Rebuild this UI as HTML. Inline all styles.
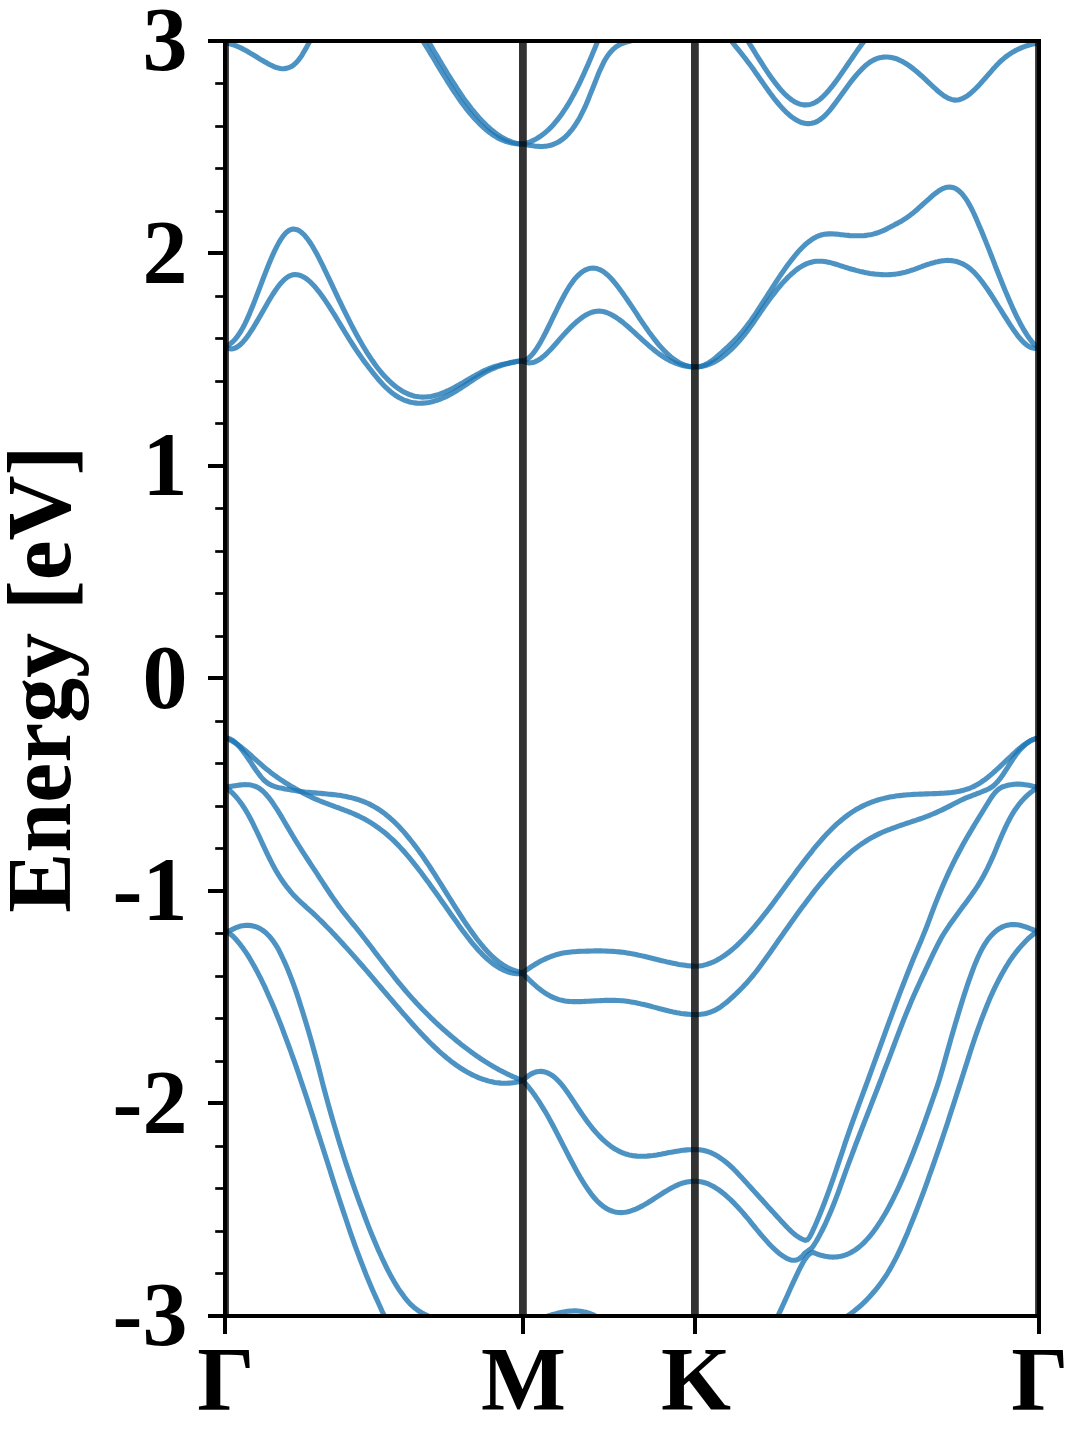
<!DOCTYPE html>
<html><head><meta charset="utf-8"><title>Band structure</title>
<style>
html,body{margin:0;padding:0;background:#fff;}
body{width:1080px;height:1440px;overflow:hidden;}
svg{display:block;}
text{font-family:"Liberation Serif",serif;font-weight:bold;font-size:90px;fill:#000;stroke:none;}
</style></head>
<body>
<svg width="1080" height="1440" viewBox="0 0 1080 1440" role="img" aria-label="Band structure: Energy [eV] versus k-path Γ-M-K-Γ">
<rect width="1080" height="1440" fill="#fff"/>
<defs><clipPath id="ax"><rect x="225.0" y="41.0" width="814.0" height="1275.0"/></clipPath></defs>
<g clip-path="url(#ax)">
<g fill="none" stroke="#1f77b4" stroke-opacity="0.8" stroke-width="5.1" stroke-linejoin="round" stroke-linecap="butt">
<path d="M225.0,43.0L227.0,43.2L229.0,43.6L230.9,44.1L232.9,44.7L234.9,45.4L236.9,46.1L238.8,47.0L240.8,47.9L242.8,48.9L244.8,50.0L246.8,51.1L248.7,52.2L250.7,53.4L252.7,54.5L254.7,55.7L256.7,57.0L258.6,58.2L260.6,59.4L262.6,60.5L264.6,61.7L266.5,62.8L268.5,63.9L270.5,65.0L272.5,65.9L274.5,66.8L276.4,67.5L278.4,68.1L280.4,68.5L282.4,68.7L284.3,68.6L286.3,68.4L288.3,67.8L290.3,67.0L292.3,65.9L294.2,64.4L296.2,62.6L298.2,60.4L300.2,57.8L302.2,54.8L304.1,51.5L306.1,48.1L308.1,44.4L310.1,40.7L312.0,37.0L314.0,33.4L316.0,30.0"/>
<path d="M414.7,28.0L416.7,31.0L418.6,34.1L420.6,37.2L422.6,40.4L424.5,43.6L426.5,46.8L428.5,50.0L430.4,53.3L432.4,56.5L434.4,59.8L436.3,63.1L438.3,66.3L440.3,69.6L442.2,72.8L444.2,76.0L446.2,79.2L448.1,82.3L450.1,85.4L452.1,88.5L454.0,91.5L456.0,94.4L458.0,97.3L459.9,100.1L461.9,102.9L463.9,105.5L465.8,108.1L467.8,110.6L469.8,113.0L471.8,115.3L473.7,117.6L475.7,119.8L477.7,121.8L479.6,123.8L481.6,125.7L483.6,127.5L485.5,129.2L487.5,130.9L489.5,132.4L491.4,133.8L493.4,135.2L495.4,136.4L497.3,137.6L499.3,138.6L501.3,139.6L503.2,140.4L505.2,141.2L507.2,141.8L509.1,142.4L511.1,142.9L513.1,143.3L515.0,143.6L517.0,143.8L519.0,143.9L520.9,144.0L522.9,144.0"/>
<path d="M420.2,28.0L422.2,31.2L424.1,34.5L426.1,37.8L428.1,41.0L430.1,44.4L432.1,47.7L434.0,51.0L436.0,54.3L438.0,57.6L439.9,60.9L441.9,64.2L443.9,67.5L445.9,70.8L447.8,74.0L449.8,77.2L451.8,80.3L453.8,83.4L455.8,86.5L457.7,89.5L459.7,92.5L461.7,95.4L463.6,98.2L465.6,101.0L467.6,103.6L469.6,106.3L471.5,108.8L473.5,111.2L475.5,113.6L477.5,115.9L479.4,118.1L481.4,120.3L483.4,122.3L485.4,124.3L487.3,126.2L489.3,128.0L491.3,129.7L493.3,131.3L495.2,132.8L497.2,134.3L499.2,135.6L501.2,136.9L503.1,138.0L505.1,139.1L507.1,140.1L509.1,140.9L511.0,141.7L513.0,142.4L515.0,142.9L517.0,143.4L519.0,143.7L520.9,143.9L522.9,144.0"/>
<path d="M522.9,144.0L524.9,143.5L526.8,143.0L528.8,142.3L530.7,141.6L532.7,140.7L534.6,139.7L536.6,138.7L538.5,137.5L540.5,136.2L542.4,134.7L544.4,133.2L546.3,131.6L548.3,129.8L550.3,127.9L552.2,125.9L554.2,123.7L556.1,121.4L558.1,119.0L560.0,116.4L562.0,113.7L563.9,110.9L565.9,107.9L567.8,104.8L569.8,101.6L571.7,98.1L573.7,94.6L575.6,90.8L577.6,87.0L579.6,83.0L581.5,78.9L583.5,74.7L585.4,70.3L587.4,65.9L589.3,61.4L591.3,56.8L593.2,52.1L595.2,47.4L597.1,42.6L599.1,37.8L601.0,32.9L603.0,28.0"/>
<path d="M522.9,144.0L524.9,144.4L526.8,144.8L528.8,145.2L530.8,145.5L532.8,145.8L534.7,146.1L536.7,146.3L538.7,146.4L540.6,146.5L542.6,146.5L544.6,146.3L546.6,146.1L548.5,145.8L550.5,145.3L552.5,144.7L554.4,143.9L556.4,143.0L558.4,142.0L560.4,140.8L562.3,139.4L564.3,137.8L566.3,136.0L568.2,134.0L570.2,131.7L572.2,129.3L574.2,126.6L576.1,123.6L578.1,120.4L580.1,116.9L582.0,113.2L584.0,109.1L586.0,104.8L588.0,100.1L589.9,95.2L591.9,90.2L593.9,85.2L595.9,80.2L597.8,75.3L599.8,70.6L601.8,66.3L603.7,62.3L605.7,58.8L607.7,55.7L609.7,53.0L611.6,50.8L613.6,48.9L615.6,47.2L617.5,45.9L619.5,44.8L621.5,43.8L623.5,43.1L625.4,42.4L627.4,41.8L629.4,41.3L631.3,40.8L633.3,40.3L635.3,39.9L637.3,39.5L639.2,39.1L641.2,38.7L643.2,38.2L645.1,37.8L647.1,37.3L649.1,36.8L651.1,36.3L653.0,35.7L655.0,35.0"/>
<path d="M722.0,29.5L724.0,32.0L726.0,34.6L728.0,37.0L730.0,39.5L732.0,41.9L734.0,44.3L736.0,46.8L737.9,49.2L739.9,51.7L741.9,54.1L743.9,56.7L745.9,59.2L747.9,61.9L749.9,64.6L751.9,67.3L753.9,70.1L755.9,72.9L757.9,75.8L759.9,78.7L761.9,81.5L763.9,84.4L765.9,87.2L767.9,90.0L769.8,92.8L771.8,95.4L773.8,98.1L775.8,100.6L777.8,103.0L779.8,105.4L781.8,107.6L783.8,109.8L785.8,111.8L787.8,113.6L789.8,115.4L791.8,117.0L793.8,118.4L795.8,119.7L797.8,120.8L799.8,121.8L801.7,122.5L803.7,123.1L805.7,123.5L807.7,123.6L809.7,123.6L811.7,123.3L813.7,122.8L815.7,122.1L817.7,121.1L819.7,119.9L821.7,118.4L823.7,116.7L825.7,114.8L827.7,112.7L829.7,110.4L831.7,107.9L833.6,105.4L835.6,102.7L837.6,100.0L839.6,97.3L841.6,94.5L843.6,91.7L845.6,88.9L847.6,86.2L849.6,83.5L851.6,80.9L853.6,78.4L855.6,76.0L857.6,73.7L859.6,71.5L861.6,69.4L863.6,67.4L865.5,65.6L867.5,64.0L869.5,62.5L871.5,61.2L873.5,60.1L875.5,59.2L877.5,58.4L879.5,57.8L881.5,57.4L883.5,57.1L885.5,57.0L887.5,57.0L889.5,57.2L891.5,57.5L893.5,58.0L895.5,58.5L897.4,59.2L899.4,60.1L901.4,61.0L903.4,62.1L905.4,63.3L907.4,64.5L909.4,65.9L911.4,67.4L913.4,68.9L915.4,70.5L917.4,72.2L919.4,74.0L921.4,75.7L923.4,77.5L925.4,79.4L927.4,81.3L929.3,83.1L931.3,85.0L933.3,86.9L935.3,88.7L937.3,90.5L939.3,92.2L941.3,93.8L943.3,95.3L945.3,96.6L947.3,97.7L949.3,98.7L951.3,99.4L953.3,99.9L955.3,100.1L957.3,100.0L959.3,99.7L961.2,99.0L963.2,98.2L965.2,97.1L967.2,95.8L969.2,94.4L971.2,92.7L973.2,90.9L975.2,89.0L977.2,87.0L979.2,84.9L981.2,82.7L983.2,80.4L985.2,78.2L987.2,75.9L989.2,73.6L991.2,71.3L993.1,69.0L995.1,66.9L997.1,64.7L999.1,62.7L1001.1,60.8L1003.1,59.1L1005.1,57.4L1007.1,55.9L1009.1,54.5L1011.1,53.1L1013.1,51.9L1015.1,50.8L1017.1,49.8L1019.1,48.8L1021.1,47.9L1023.1,47.1L1025.0,46.4L1027.0,45.7L1029.0,45.1L1031.0,44.5L1033.0,44.1L1035.0,43.8L1037.0,43.6L1039.0,43.5"/>
<path d="M740.0,28.8L742.0,31.8L744.0,35.0L746.0,38.1L748.0,41.3L750.0,44.5L752.0,47.7L754.0,50.9L756.0,54.2L758.0,57.4L760.0,60.5L762.0,63.7L764.0,66.8L766.0,69.8L768.0,72.8L770.0,75.7L772.0,78.6L774.0,81.3L776.0,83.9L778.0,86.4L780.0,88.8L782.0,91.1L784.0,93.2L786.0,95.2L788.0,97.0L790.0,98.6L792.0,100.1L794.0,101.4L796.0,102.5L798.0,103.4L800.0,104.1L802.0,104.6L804.0,104.9L806.0,104.9L808.0,104.8L810.0,104.4L812.0,103.9L814.0,103.0L816.0,102.0L818.0,100.7L820.0,99.2L822.0,97.5L824.0,95.6L826.0,93.5L828.0,91.3L830.0,88.9L832.0,86.5L834.0,83.9L836.0,81.2L838.0,78.5L840.0,75.6L842.0,72.8L844.0,69.9L846.0,67.0L848.0,64.0L850.0,61.1L852.0,58.2L854.0,55.3L856.0,52.4L858.0,49.6L860.0,46.8L862.0,44.1L864.0,41.4L866.0,38.7L868.0,35.9L870.0,32.7L872.0,29.0"/>
<path d="M225.0,346.5L227.0,345.7L229.0,344.7L231.0,343.2L233.0,341.5L235.0,339.4L237.0,336.9L239.0,334.1L241.0,331.0L243.0,327.5L245.0,323.6L247.0,319.4L249.0,314.9L251.0,310.1L253.0,305.2L255.0,300.1L257.0,294.9L259.0,289.6L261.0,284.3L263.0,279.0L265.0,273.8L267.0,268.7L269.0,263.7L271.0,258.9L273.0,254.4L275.0,250.1L277.0,246.1L279.0,242.4L281.0,239.1L283.0,236.2L285.0,233.8L287.0,231.8L289.0,230.4L291.0,229.5L293.0,229.1L295.0,229.2L297.0,229.7L299.0,230.6L301.0,232.0L303.0,233.8L305.0,235.8L307.0,238.3L309.0,241.0L311.0,244.0L313.0,247.2L315.0,250.7L317.0,254.3L319.0,258.1L321.0,262.1L323.0,266.1L325.0,270.3L327.0,274.5L329.0,278.7L331.0,282.9L333.0,287.2L335.0,291.4L337.0,295.6L339.0,299.8L341.0,303.9L343.0,308.1L345.0,312.2L347.0,316.2L349.0,320.2L351.0,324.1L353.0,328.0L355.0,331.8L357.0,335.5L359.0,339.1L361.0,342.6L363.0,346.0L365.0,349.3L367.0,352.6L369.0,355.7L371.0,358.7L373.0,361.5L374.9,364.3L376.9,367.0L378.9,369.5L380.9,372.0L382.9,374.3L384.9,376.5L386.9,378.6L388.9,380.6L390.9,382.5L392.9,384.3L394.9,385.9L396.9,387.5L398.9,388.9L400.9,390.2L402.9,391.4L404.9,392.5L406.9,393.4L408.9,394.3L410.9,395.0L412.9,395.7L414.9,396.2L416.9,396.5L418.9,396.8L420.9,397.0L422.9,397.1L424.9,397.0L426.9,396.9L428.9,396.7L430.9,396.4L432.9,396.0L434.9,395.5L436.9,395.0L438.9,394.4L440.9,393.7L442.9,392.9L444.9,392.1L446.9,391.2L448.9,390.3L450.9,389.3L452.9,388.3L454.9,387.2L456.9,386.1L458.9,385.0L460.9,383.8L462.9,382.7L464.9,381.5L466.9,380.3L468.9,379.1L470.9,378.0L472.9,376.8L474.9,375.7L476.9,374.5L478.9,373.5L480.9,372.4L482.9,371.4L484.9,370.4L486.9,369.5L488.9,368.7L490.9,367.9L492.9,367.2L494.9,366.5L496.9,365.9L498.9,365.4L500.9,364.8L502.9,364.3L504.9,363.9L506.9,363.4L508.9,363.0L510.9,362.5L512.9,362.1L514.9,361.7L516.9,361.3L518.9,361.1L520.9,361.0L522.9,361.0"/>
<path d="M522.9,361.0L524.9,360.4L526.9,359.3L528.9,357.8L530.9,355.9L532.9,353.6L534.9,351.0L536.9,348.1L538.9,344.9L540.9,341.4L542.9,337.8L544.9,334.0L546.9,330.0L548.9,326.0L550.9,321.9L552.9,317.7L554.9,313.6L556.9,309.5L558.9,305.4L560.9,301.5L562.9,297.7L564.9,294.0L566.9,290.5L568.9,287.2L570.9,284.2L572.9,281.4L574.9,278.8L576.9,276.6L578.9,274.6L580.9,272.8L582.9,271.4L584.9,270.2L586.9,269.3L588.9,268.6L590.9,268.2L592.9,268.1L594.9,268.2L596.9,268.6L598.9,269.3L600.9,270.2L602.9,271.3L604.9,272.8L606.9,274.4L608.9,276.2L610.9,278.3L612.9,280.5L614.9,282.9L616.9,285.4L618.9,288.0L620.9,290.7L622.9,293.5L624.9,296.4L626.9,299.3L628.9,302.2L630.9,305.2L632.9,308.2L634.9,311.2L636.9,314.2L638.9,317.3L640.9,320.3L642.9,323.2L644.9,326.1L646.9,329.0L648.9,331.9L650.9,334.6L652.9,337.3L654.9,339.9L656.9,342.4L658.9,344.8L660.9,347.1L662.9,349.3L664.9,351.4L666.9,353.3L668.9,355.2L670.9,356.9L672.9,358.5L674.9,359.9L676.9,361.3L678.9,362.5L680.9,363.5L682.9,364.4L684.9,365.2L686.9,365.8L688.9,366.3L690.9,366.7L692.9,366.9L694.9,366.9"/>
<path d="M694.9,366.9L696.9,366.9L698.9,366.7L700.9,366.2L702.9,365.7L704.8,364.9L706.8,363.9L708.8,362.8L710.8,361.4L712.8,360.0L714.8,358.4L716.8,356.7L718.8,355.0L720.8,353.3L722.7,351.5L724.7,349.7L726.7,347.9L728.7,346.1L730.7,344.1L732.7,342.2L734.7,340.1L736.7,338.0L738.7,335.9L740.6,333.6L742.6,331.3L744.6,328.8L746.6,326.3L748.6,323.6L750.6,320.9L752.6,318.0L754.6,315.1L756.6,312.2L758.5,309.2L760.5,306.1L762.5,303.0L764.5,299.9L766.5,296.8L768.5,293.7L770.5,290.6L772.5,287.5L774.5,284.4L776.4,281.4L778.4,278.4L780.4,275.4L782.4,272.5L784.4,269.6L786.4,266.8L788.4,264.1L790.4,261.4L792.4,258.9L794.4,256.4L796.3,254.0L798.3,251.7L800.3,249.5L802.3,247.5L804.3,245.5L806.3,243.7L808.3,242.1L810.3,240.6L812.3,239.2L814.2,238.0L816.2,236.9L818.2,236.0L820.2,235.3L822.2,234.7L824.2,234.3L826.2,234.1L828.2,233.9L830.2,233.8L832.1,233.9L834.1,234.0L836.1,234.1L838.1,234.3L840.1,234.6L842.1,234.8L844.1,235.0L846.1,235.2L848.1,235.4L850.0,235.6L852.0,235.7L854.0,235.8L856.0,235.8L858.0,235.8L860.0,235.8L862.0,235.7L864.0,235.6L866.0,235.4L867.9,235.1L869.9,234.8L871.9,234.4L873.9,233.9L875.9,233.3L877.9,232.7L879.9,232.0L881.9,231.2L883.9,230.3L885.8,229.4L887.8,228.3L889.8,227.3L891.8,226.2L893.8,225.2L895.8,224.1L897.8,223.1L899.8,222.0L901.8,220.9L903.7,219.7L905.7,218.4L907.7,217.0L909.7,215.6L911.7,214.0L913.7,212.4L915.7,210.7L917.7,209.0L919.7,207.2L921.6,205.5L923.6,203.7L925.6,201.9L927.6,200.1L929.6,198.3L931.6,196.5L933.6,194.8L935.6,193.2L937.6,191.8L939.5,190.4L941.5,189.3L943.5,188.3L945.5,187.6L947.5,187.2L949.5,187.0L951.5,187.2L953.5,187.7L955.5,188.5L957.5,189.7L959.4,191.3L961.4,193.2L963.4,195.5L965.4,198.2L967.4,201.2L969.4,204.7L971.4,208.4L973.4,212.5L975.4,216.8L977.3,221.2L979.3,225.9L981.3,230.6L983.3,235.5L985.3,240.4L987.3,245.4L989.3,250.4L991.3,255.5L993.3,260.6L995.2,265.7L997.2,270.7L999.2,275.8L1001.2,280.8L1003.2,285.7L1005.2,290.6L1007.2,295.3L1009.2,300.0L1011.2,304.5L1013.1,308.9L1015.1,313.2L1017.1,317.3L1019.1,321.2L1021.1,325.0L1023.1,328.6L1025.1,331.9L1027.1,335.1L1029.1,338.0L1031.0,340.6L1033.0,343.0L1035.0,344.9L1037.0,346.5L1039.0,347.5"/>
<path d="M225.0,346.5L227.0,347.8L229.0,348.6L231.0,348.9L233.0,348.7L235.0,348.1L237.0,347.1L239.0,345.7L241.0,344.0L243.0,341.9L245.0,339.6L247.0,337.0L249.0,334.2L251.0,331.2L253.0,328.1L255.0,324.8L257.0,321.4L259.0,317.9L261.0,314.4L263.0,310.9L265.0,307.4L267.0,303.9L269.0,300.5L271.0,297.2L273.0,294.0L275.0,291.0L277.0,288.1L279.0,285.4L281.0,283.0L283.0,280.9L285.0,279.0L287.0,277.4L289.0,276.2L291.0,275.4L293.0,274.8L295.0,274.6L297.0,274.7L299.0,275.1L301.0,275.7L303.0,276.7L305.0,277.8L307.0,279.2L309.0,280.9L311.0,282.7L313.0,284.7L315.0,286.9L317.0,289.3L319.0,291.8L321.0,294.5L323.0,297.2L325.0,300.1L327.0,303.1L329.0,306.2L331.0,309.3L333.0,312.5L335.0,315.7L337.0,319.0L339.0,322.3L341.0,325.6L343.0,328.9L345.0,332.2L347.0,335.4L349.0,338.7L351.0,341.9L353.0,345.0L355.0,348.1L357.0,351.1L359.0,354.0L361.0,356.9L363.0,359.7L365.0,362.4L367.0,365.1L369.0,367.7L371.0,370.3L373.0,372.8L374.9,375.2L376.9,377.6L378.9,380.0L380.9,382.2L382.9,384.4L384.9,386.5L386.9,388.4L388.9,390.2L390.9,391.9L392.9,393.5L394.9,395.0L396.9,396.3L398.9,397.5L400.9,398.5L402.9,399.5L404.9,400.3L406.9,401.0L408.9,401.7L410.9,402.2L412.9,402.6L414.9,402.9L416.9,403.1L418.9,403.2L420.9,403.2L422.9,403.1L424.9,403.0L426.9,402.7L428.9,402.4L430.9,402.0L432.9,401.5L434.9,400.9L436.9,400.3L438.9,399.6L440.9,398.8L442.9,398.0L444.9,397.1L446.9,396.1L448.9,395.1L450.9,394.0L452.9,392.9L454.9,391.7L456.9,390.5L458.9,389.2L460.9,388.0L462.9,386.7L464.9,385.3L466.9,384.0L468.9,382.7L470.9,381.3L472.9,380.0L474.9,378.7L476.9,377.4L478.9,376.2L480.9,374.9L482.9,373.7L484.9,372.6L486.9,371.5L488.9,370.5L490.9,369.5L492.9,368.6L494.9,367.8L496.9,367.0L498.9,366.2L500.9,365.6L502.9,364.9L504.9,364.3L506.9,363.8L508.9,363.3L510.9,362.8L512.9,362.4L514.9,362.0L516.9,361.6L518.9,361.3L520.9,361.1L522.9,361.0"/>
<path d="M522.9,361.0L524.9,362.0L526.9,362.6L528.9,362.9L530.9,362.8L532.9,362.5L534.9,361.8L536.9,360.9L538.9,359.8L540.9,358.4L542.9,356.9L544.9,355.2L546.9,353.3L548.9,351.3L550.9,349.2L552.9,347.0L554.9,344.8L556.9,342.5L558.9,340.2L560.9,337.9L562.9,335.6L564.9,333.4L566.9,331.3L568.9,329.2L570.9,327.1L572.9,325.2L574.9,323.3L576.9,321.5L578.9,319.9L580.9,318.3L582.9,316.9L584.9,315.6L586.9,314.5L588.9,313.5L590.9,312.7L592.9,312.0L594.9,311.5L596.9,311.2L598.9,311.1L600.9,311.3L602.9,311.6L604.9,312.0L606.9,312.7L608.9,313.5L610.9,314.4L612.9,315.5L614.9,316.7L616.9,318.0L618.9,319.4L620.9,320.9L622.9,322.4L624.9,324.1L626.9,325.8L628.9,327.5L630.9,329.3L632.9,331.1L634.9,332.9L636.9,334.8L638.9,336.6L640.9,338.5L642.9,340.3L644.9,342.1L646.9,343.9L648.9,345.7L650.9,347.4L652.9,349.1L654.9,350.7L656.9,352.3L658.9,353.8L660.9,355.2L662.9,356.6L664.9,357.8L666.9,359.0L668.9,360.1L670.9,361.1L672.9,362.0L674.9,362.9L676.9,363.7L678.9,364.4L680.9,365.0L682.9,365.5L684.9,365.9L686.9,366.3L688.9,366.6L690.9,366.8L692.9,366.9L694.9,366.9"/>
<path d="M694.9,366.9L696.9,366.8L698.9,366.7L700.9,366.5L702.9,366.1L704.8,365.7L706.8,365.1L708.8,364.4L710.8,363.6L712.8,362.7L714.8,361.7L716.8,360.6L718.8,359.3L720.8,358.0L722.7,356.6L724.7,355.0L726.7,353.4L728.7,351.7L730.7,349.9L732.7,347.9L734.7,345.9L736.7,343.8L738.7,341.6L740.6,339.3L742.6,336.9L744.6,334.5L746.6,331.9L748.6,329.2L750.6,326.5L752.6,323.7L754.6,320.8L756.6,317.9L758.5,315.0L760.5,312.1L762.5,309.3L764.5,306.4L766.5,303.6L768.5,300.8L770.5,298.1L772.5,295.5L774.5,292.9L776.4,290.4L778.4,287.9L780.4,285.5L782.4,283.2L784.4,281.0L786.4,278.9L788.4,276.9L790.4,275.0L792.4,273.2L794.4,271.5L796.3,269.9L798.3,268.4L800.3,267.1L802.3,265.9L804.3,264.8L806.3,263.9L808.3,263.1L810.3,262.5L812.3,262.0L814.2,261.6L816.2,261.3L818.2,261.2L820.2,261.2L822.2,261.3L824.2,261.5L826.2,261.8L828.2,262.2L830.2,262.6L832.1,263.1L834.1,263.7L836.1,264.3L838.1,264.9L840.1,265.6L842.1,266.2L844.1,266.9L846.1,267.5L848.1,268.1L850.0,268.7L852.0,269.3L854.0,269.8L856.0,270.4L858.0,270.9L860.0,271.4L862.0,271.8L864.0,272.3L866.0,272.7L867.9,273.0L869.9,273.4L871.9,273.7L873.9,273.9L875.9,274.2L877.9,274.3L879.9,274.5L881.9,274.6L883.9,274.7L885.8,274.7L887.8,274.7L889.8,274.6L891.8,274.5L893.8,274.3L895.8,274.1L897.8,273.8L899.8,273.4L901.8,273.0L903.7,272.6L905.7,272.1L907.7,271.5L909.7,270.9L911.7,270.2L913.7,269.6L915.7,268.9L917.7,268.1L919.7,267.4L921.6,266.7L923.6,265.9L925.6,265.2L927.6,264.5L929.6,263.9L931.6,263.2L933.6,262.7L935.6,262.1L937.6,261.7L939.5,261.2L941.5,260.9L943.5,260.7L945.5,260.5L947.5,260.4L949.5,260.5L951.5,260.6L953.5,260.9L955.5,261.3L957.5,261.8L959.4,262.5L961.4,263.3L963.4,264.2L965.4,265.4L967.4,266.7L969.4,268.1L971.4,269.8L973.4,271.6L975.4,273.7L977.3,275.9L979.3,278.2L981.3,280.8L983.3,283.4L985.3,286.2L987.3,289.0L989.3,292.0L991.3,295.0L993.3,298.1L995.2,301.2L997.2,304.3L999.2,307.5L1001.2,310.7L1003.2,313.9L1005.2,317.0L1007.2,320.2L1009.2,323.3L1011.2,326.3L1013.1,329.2L1015.1,332.1L1017.1,334.8L1019.1,337.3L1021.1,339.7L1023.1,341.8L1025.1,343.7L1027.1,345.3L1029.1,346.6L1031.0,347.5L1033.0,348.1L1035.0,348.4L1037.0,348.2L1039.0,347.5"/>
<path d="M225.0,738.0L227.0,738.7L229.0,739.5L231.0,740.5L233.0,741.6L235.0,742.8L237.0,744.1L239.0,745.6L241.0,747.1L243.0,748.7L245.0,750.3L247.0,752.0L249.0,753.7L251.0,755.5L253.0,757.3L255.0,759.1L257.0,760.9L259.0,762.6L261.0,764.4L263.0,766.2L265.0,767.9L267.0,769.5L269.0,771.1L271.0,772.7L273.0,774.2L275.0,775.7L277.0,777.1L279.0,778.5L281.0,779.9L283.0,781.2L285.0,782.5L287.0,783.7L289.0,785.0L291.0,786.2L293.0,787.3L295.0,788.5L297.0,789.6L299.0,790.8L301.0,791.8L303.0,792.9L305.0,794.0L307.0,795.0L309.0,796.0L311.0,796.9L313.0,797.9L315.0,798.8L317.0,799.6L319.0,800.5L321.0,801.3L323.0,802.1L325.0,802.9L327.0,803.6L329.0,804.4L331.0,805.1L333.0,805.8L335.0,806.6L337.0,807.3L339.0,808.0L341.0,808.8L343.0,809.5L345.0,810.3L347.0,811.0L349.0,811.8L351.0,812.7L353.0,813.5L355.0,814.4L357.0,815.3L359.0,816.2L361.0,817.2L363.0,818.2L365.0,819.3L367.0,820.4L369.0,821.6L371.0,822.8L373.0,824.1L374.9,825.4L376.9,826.8L378.9,828.2L380.9,829.7L382.9,831.2L384.9,832.8L386.9,834.5L388.9,836.3L390.9,838.1L392.9,839.9L394.9,841.9L396.9,843.9L398.9,845.9L400.9,848.1L402.9,850.3L404.9,852.5L406.9,854.8L408.9,857.2L410.9,859.6L412.9,862.1L414.9,864.6L416.9,867.1L418.9,869.7L420.9,872.3L422.9,875.0L424.9,877.7L426.9,880.4L428.9,883.1L430.9,885.9L432.9,888.7L434.9,891.5L436.9,894.3L438.9,897.1L440.9,899.9L442.9,902.8L444.9,905.6L446.9,908.5L448.9,911.3L450.9,914.2L452.9,917.0L454.9,919.8L456.9,922.6L458.9,925.4L460.9,928.2L462.9,930.9L464.9,933.6L466.9,936.2L468.9,938.8L470.9,941.4L472.9,943.8L474.9,946.2L476.9,948.5L478.9,950.7L480.9,952.8L482.9,954.9L484.9,956.8L486.9,958.7L488.9,960.4L490.9,962.1L492.9,963.7L494.9,965.1L496.9,966.4L498.9,967.7L500.9,968.8L502.9,969.8L504.9,970.7L506.9,971.5L508.9,972.2L510.9,972.8L512.9,973.2L514.9,973.5L516.9,973.7L518.9,973.8L520.9,973.7L522.9,973.5"/>
<path d="M225.0,738.0L227.0,738.0L229.0,738.5L231.0,739.4L233.0,740.6L235.0,742.2L237.0,744.1L239.0,746.2L241.0,748.6L243.0,751.2L245.0,753.9L247.0,756.8L249.0,759.7L251.0,762.7L253.0,765.8L255.0,768.7L257.0,771.6L259.0,774.3L261.0,776.9L263.0,779.1L265.0,781.1L267.0,782.7L269.0,784.0L271.0,785.1L273.0,785.9L275.0,786.6L277.0,787.2L279.0,787.7L281.0,788.1L283.0,788.5L285.0,788.9L287.0,789.2L289.0,789.6L291.0,789.9L293.0,790.3L295.0,790.6L297.0,790.9L299.0,791.2L301.0,791.5L303.0,791.7L305.0,792.0L307.0,792.2L309.0,792.4L311.0,792.6L313.0,792.8L315.0,792.9L317.0,793.1L319.0,793.3L321.0,793.4L323.0,793.6L325.0,793.8L327.0,794.0L329.0,794.2L331.0,794.4L333.0,794.6L335.0,794.8L337.0,795.1L339.0,795.3L341.0,795.6L343.0,796.0L345.0,796.3L347.0,796.7L349.0,797.2L351.0,797.6L353.0,798.1L355.0,798.7L357.0,799.3L359.0,799.9L361.0,800.6L363.0,801.4L365.0,802.2L367.0,803.0L369.0,803.9L371.0,804.9L373.0,806.0L374.9,807.1L376.9,808.3L378.9,809.5L380.9,810.9L382.9,812.3L384.9,813.8L386.9,815.4L388.9,817.0L390.9,818.8L392.9,820.6L394.9,822.5L396.9,824.5L398.9,826.6L400.9,828.7L402.9,830.9L404.9,833.2L406.9,835.6L408.9,838.0L410.9,840.5L412.9,843.0L414.9,845.6L416.9,848.3L418.9,851.0L420.9,853.8L422.9,856.6L424.9,859.5L426.9,862.5L428.9,865.4L430.9,868.5L432.9,871.6L434.9,874.7L436.9,877.8L438.9,881.0L440.9,884.2L442.9,887.4L444.9,890.6L446.9,893.8L448.9,897.0L450.9,900.2L452.9,903.4L454.9,906.6L456.9,909.7L458.9,912.9L460.9,916.0L462.9,919.0L464.9,922.1L466.9,925.0L468.9,927.9L470.9,930.8L472.9,933.6L474.9,936.3L476.9,939.0L478.9,941.5L480.9,944.0L482.9,946.4L484.9,948.8L486.9,951.0L488.9,953.1L490.9,955.1L492.9,957.0L494.9,958.8L496.9,960.4L498.9,962.0L500.9,963.5L502.9,964.8L504.9,966.1L506.9,967.2L508.9,968.2L510.9,969.2L512.9,970.0L514.9,970.7L516.9,971.3L518.9,971.9L520.9,972.3L522.9,972.6"/>
<path d="M522.9,972.6L524.9,971.1L526.9,969.7L528.9,968.3L530.9,967.0L532.9,965.7L534.9,964.5L536.9,963.3L538.9,962.1L540.9,961.0L542.9,960.0L544.9,959.1L546.9,958.1L548.9,957.3L550.9,956.5L552.9,955.8L554.9,955.1L556.9,954.5L558.9,954.0L560.9,953.5L562.9,953.1L564.9,952.8L566.9,952.5L568.9,952.2L570.9,952.0L572.9,951.8L574.9,951.7L576.9,951.5L578.9,951.4L580.9,951.3L582.9,951.3L584.9,951.2L586.9,951.1L588.9,951.1L590.9,951.0L592.9,951.0L594.9,950.9L596.9,950.9L598.9,950.9L600.9,950.9L602.9,951.0L604.9,951.0L606.9,951.1L608.9,951.2L610.9,951.3L612.9,951.4L614.9,951.5L616.9,951.7L618.9,951.9L620.9,952.1L622.9,952.3L624.9,952.6L626.9,952.9L628.9,953.2L630.9,953.6L632.9,953.9L634.9,954.3L636.9,954.7L638.9,955.2L640.9,955.6L642.9,956.1L644.9,956.5L646.9,957.0L648.9,957.5L650.9,958.0L652.9,958.5L654.9,959.0L656.9,959.5L658.9,960.0L660.9,960.5L662.9,960.9L664.9,961.4L666.9,961.9L668.9,962.3L670.9,962.8L672.9,963.2L674.9,963.6L676.9,964.0L678.9,964.4L680.9,964.7L682.9,965.0L684.9,965.3L686.9,965.6L688.9,965.8L690.9,966.0L692.9,966.1L694.9,966.2"/>
<path d="M694.9,966.2L696.9,966.2L698.9,966.0L700.9,965.7L702.9,965.4L704.8,964.9L706.8,964.4L708.8,963.7L710.8,963.0L712.8,962.2L714.8,961.2L716.8,960.2L718.8,959.1L720.8,957.9L722.7,956.7L724.7,955.3L726.7,953.9L728.7,952.4L730.7,950.8L732.7,949.1L734.7,947.4L736.7,945.6L738.7,943.7L740.6,941.8L742.6,939.8L744.6,937.7L746.6,935.6L748.6,933.4L750.6,931.2L752.6,928.9L754.6,926.6L756.6,924.2L758.5,921.8L760.5,919.4L762.5,916.9L764.5,914.3L766.5,911.8L768.5,909.2L770.5,906.6L772.5,903.9L774.5,901.3L776.4,898.6L778.4,895.9L780.4,893.2L782.4,890.5L784.4,887.8L786.4,885.1L788.4,882.3L790.4,879.6L792.4,876.9L794.4,874.2L796.3,871.5L798.3,868.8L800.3,866.2L802.3,863.6L804.3,860.9L806.3,858.4L808.3,855.8L810.3,853.3L812.3,850.8L814.2,848.3L816.2,845.9L818.2,843.6L820.2,841.3L822.2,839.0L824.2,836.8L826.2,834.6L828.2,832.5L830.2,830.5L832.1,828.5L834.1,826.6L836.1,824.7L838.1,822.9L840.1,821.2L842.1,819.5L844.1,817.9L846.1,816.4L848.1,814.9L850.0,813.5L852.0,812.1L854.0,810.9L856.0,809.6L858.0,808.5L860.0,807.4L862.0,806.4L864.0,805.4L866.0,804.5L867.9,803.6L869.9,802.8L871.9,802.0L873.9,801.3L875.9,800.6L877.9,800.0L879.9,799.4L881.9,798.9L883.9,798.4L885.8,797.9L887.8,797.5L889.8,797.1L891.8,796.7L893.8,796.4L895.8,796.1L897.8,795.8L899.8,795.6L901.8,795.4L903.7,795.1L905.7,795.0L907.7,794.8L909.7,794.7L911.7,794.5L913.7,794.4L915.7,794.3L917.7,794.2L919.7,794.1L921.6,794.1L923.6,794.0L925.6,793.9L927.6,793.9L929.6,793.8L931.6,793.7L933.6,793.6L935.6,793.6L937.6,793.5L939.5,793.4L941.5,793.3L943.5,793.2L945.5,793.0L947.5,792.9L949.5,792.7L951.5,792.5L953.5,792.2L955.5,791.9L957.5,791.6L959.4,791.2L961.4,790.7L963.4,790.2L965.4,789.6L967.4,789.0L969.4,788.3L971.4,787.5L973.4,786.6L975.4,785.6L977.3,784.5L979.3,783.4L981.3,782.1L983.3,780.7L985.3,779.3L987.3,777.7L989.3,776.1L991.3,774.4L993.3,772.7L995.2,771.0L997.2,769.1L999.2,767.3L1001.2,765.4L1003.2,763.5L1005.2,761.6L1007.2,759.7L1009.2,757.9L1011.2,756.0L1013.1,754.1L1015.1,752.3L1017.1,750.5L1019.1,748.8L1021.1,747.1L1023.1,745.6L1025.1,744.1L1027.1,742.8L1029.1,741.6L1031.0,740.5L1033.0,739.6L1035.0,738.9L1037.0,738.3L1039.0,738.0"/>
<path d="M522.9,973.5L524.9,975.6L526.9,977.6L528.9,979.6L530.9,981.5L532.9,983.3L534.9,985.1L536.9,986.9L538.9,988.5L540.9,990.1L542.9,991.5L544.9,992.9L546.9,994.2L548.9,995.3L550.9,996.4L552.9,997.3L554.9,998.2L556.9,998.9L558.9,999.6L560.9,1000.1L562.9,1000.5L564.9,1000.9L566.9,1001.2L568.9,1001.4L570.9,1001.5L572.9,1001.6L574.9,1001.6L576.9,1001.6L578.9,1001.6L580.9,1001.6L582.9,1001.5L584.9,1001.4L586.9,1001.3L588.9,1001.2L590.9,1001.1L592.9,1001.0L594.9,1000.9L596.9,1000.8L598.9,1000.7L600.9,1000.6L602.9,1000.5L604.9,1000.4L606.9,1000.4L608.9,1000.4L610.9,1000.3L612.9,1000.4L614.9,1000.4L616.9,1000.5L618.9,1000.5L620.9,1000.7L622.9,1000.8L624.9,1001.0L626.9,1001.3L628.9,1001.6L630.9,1001.9L632.9,1002.2L634.9,1002.6L636.9,1003.0L638.9,1003.4L640.9,1003.9L642.9,1004.3L644.9,1004.8L646.9,1005.3L648.9,1005.8L650.9,1006.3L652.9,1006.9L654.9,1007.4L656.9,1007.9L658.9,1008.5L660.9,1009.0L662.9,1009.5L664.9,1010.0L666.9,1010.5L668.9,1011.0L670.9,1011.4L672.9,1011.9L674.9,1012.3L676.9,1012.7L678.9,1013.0L680.9,1013.4L682.9,1013.7L684.9,1013.9L686.9,1014.1L688.9,1014.3L690.9,1014.5L692.9,1014.5L694.9,1014.6"/>
<path d="M694.9,1014.6L696.9,1014.6L698.9,1014.5L700.9,1014.3L702.9,1014.0L704.8,1013.7L706.8,1013.2L708.8,1012.6L710.8,1012.0L712.8,1011.2L714.8,1010.3L716.8,1009.2L718.8,1008.1L720.8,1006.8L722.7,1005.3L724.7,1003.8L726.7,1002.2L728.7,1000.5L730.7,998.7L732.7,996.8L734.7,995.0L736.7,993.1L738.7,991.2L740.6,989.2L742.6,987.2L744.6,985.1L746.6,983.0L748.6,980.7L750.6,978.4L752.6,976.0L754.6,973.5L756.6,971.0L758.5,968.4L760.5,965.7L762.5,963.0L764.5,960.3L766.5,957.5L768.5,954.7L770.5,951.9L772.5,949.1L774.5,946.2L776.4,943.4L778.4,940.6L780.4,937.7L782.4,934.9L784.4,932.1L786.4,929.2L788.4,926.4L790.4,923.6L792.4,920.8L794.4,918.0L796.3,915.3L798.3,912.5L800.3,909.8L802.3,907.1L804.3,904.4L806.3,901.7L808.3,899.1L810.3,896.5L812.3,893.9L814.2,891.4L816.2,888.8L818.2,886.4L820.2,883.9L822.2,881.5L824.2,879.2L826.2,876.8L828.2,874.6L830.2,872.3L832.1,870.1L834.1,868.0L836.1,865.9L838.1,863.9L840.1,861.9L842.1,860.0L844.1,858.1L846.1,856.3L848.1,854.5L850.0,852.8L852.0,851.1L854.0,849.5L856.0,848.0L858.0,846.5L860.0,845.0L862.0,843.6L864.0,842.3L866.0,841.0L867.9,839.8L869.9,838.6L871.9,837.5L873.9,836.4L875.9,835.4L877.9,834.4L879.9,833.4L881.9,832.5L883.9,831.7L885.8,830.8L887.8,830.0L889.8,829.3L891.8,828.5L893.8,827.8L895.8,827.1L897.8,826.4L899.8,825.7L901.8,825.0L903.7,824.4L905.7,823.7L907.7,823.0L909.7,822.4L911.7,821.7L913.7,821.0L915.7,820.4L917.7,819.7L919.7,819.0L921.6,818.3L923.6,817.6L925.6,816.8L927.6,816.1L929.6,815.3L931.6,814.5L933.6,813.7L935.6,812.8L937.6,811.9L939.5,811.0L941.5,810.1L943.5,809.1L945.5,808.1L947.5,807.1L949.5,806.1L951.5,805.1L953.5,804.0L955.5,803.0L957.5,802.0L959.4,801.0L961.4,800.0L963.4,799.1L965.4,798.2L967.4,797.4L969.4,796.6L971.4,795.8L973.4,795.0L975.4,794.3L977.3,793.5L979.3,792.8L981.3,792.0L983.3,791.2L985.3,790.4L987.3,789.5L989.3,788.5L991.3,787.3L993.3,785.9L995.2,784.2L997.2,782.1L999.2,779.7L1001.2,777.1L1003.2,774.2L1005.2,771.2L1007.2,768.1L1009.2,764.9L1011.2,761.8L1013.1,758.8L1015.1,756.0L1017.1,753.3L1019.1,750.9L1021.1,748.6L1023.1,746.6L1025.1,744.8L1027.1,743.1L1029.1,741.7L1031.0,740.5L1033.0,739.6L1035.0,738.8L1037.0,738.3L1039.0,738.0"/>
<path d="M225.0,787.0L227.0,786.8L229.0,786.6L231.0,786.4L233.0,786.0L235.0,785.7L237.0,785.4L239.0,785.1L241.0,784.9L243.0,784.7L245.0,784.6L247.0,784.7L249.0,784.8L251.0,785.1L253.0,785.6L255.0,786.2L257.0,787.1L259.0,788.2L261.0,789.6L263.0,791.3L265.0,793.3L267.0,795.5L269.0,797.9L271.0,800.5L273.0,803.3L275.0,806.3L277.0,809.4L279.0,812.6L281.0,815.9L283.0,819.3L285.0,822.7L287.0,826.1L289.0,829.5L291.0,832.9L293.0,836.3L295.0,839.6L297.0,842.8L299.0,846.0L301.0,849.2L303.0,852.3L305.0,855.4L307.0,858.5L309.0,861.5L311.0,864.6L313.0,867.6L315.0,870.7L317.0,873.7L319.0,876.8L321.0,879.9L323.0,882.9L325.0,886.0L327.0,889.0L329.0,892.0L331.0,895.0L333.0,897.9L335.0,900.8L337.0,903.6L339.0,906.4L341.0,909.0L343.0,911.7L345.0,914.2L347.0,916.7L349.0,919.1L351.0,921.6L353.0,924.0L355.0,926.4L357.0,928.9L359.0,931.4L361.0,933.9L363.0,936.5L365.0,939.0L367.0,941.6L369.0,944.2L371.0,946.8L373.0,949.4L374.9,952.0L376.9,954.6L378.9,957.2L380.9,959.8L382.9,962.4L384.9,965.0L386.9,967.6L388.9,970.2L390.9,972.7L392.9,975.3L394.9,977.8L396.9,980.3L398.9,982.8L400.9,985.2L402.9,987.6L404.9,990.0L406.9,992.3L408.9,994.6L410.9,996.9L412.9,999.1L414.9,1001.3L416.9,1003.5L418.9,1005.6L420.9,1007.7L422.9,1009.8L424.9,1011.8L426.9,1013.8L428.9,1015.8L430.9,1017.8L432.9,1019.7L434.9,1021.6L436.9,1023.5L438.9,1025.3L440.9,1027.2L442.9,1029.0L444.9,1030.7L446.9,1032.5L448.9,1034.2L450.9,1036.0L452.9,1037.6L454.9,1039.3L456.9,1041.0L458.9,1042.6L460.9,1044.2L462.9,1045.7L464.9,1047.3L466.9,1048.8L468.9,1050.3L470.9,1051.8L472.9,1053.2L474.9,1054.7L476.9,1056.1L478.9,1057.4L480.9,1058.8L482.9,1060.1L484.9,1061.4L486.9,1062.6L488.9,1063.9L490.9,1065.1L492.9,1066.3L494.9,1067.4L496.9,1068.6L498.9,1069.7L500.9,1070.7L502.9,1071.8L504.9,1072.8L506.9,1073.8L508.9,1074.7L510.9,1075.7L512.9,1076.6L514.9,1077.4L516.9,1078.3L518.9,1079.1L520.9,1079.9L522.9,1080.6"/>
<path d="M225.0,787.0L227.0,788.4L229.0,790.0L231.0,791.7L233.0,793.6L235.0,795.7L237.0,798.0L239.0,800.5L241.0,803.1L243.0,806.0L245.0,809.1L247.0,812.5L249.0,816.0L251.0,819.8L253.0,823.7L255.0,827.8L257.0,832.0L259.0,836.2L261.0,840.5L263.0,844.8L265.0,849.1L267.0,853.3L269.0,857.5L271.0,861.4L273.0,865.3L275.0,868.9L277.0,872.4L279.0,875.7L281.0,878.8L283.0,881.7L285.0,884.5L287.0,887.2L289.0,889.7L291.0,892.1L293.0,894.4L295.0,896.5L297.0,898.6L299.0,900.5L301.0,902.4L303.0,904.2L305.0,906.0L307.0,907.8L309.0,909.6L311.0,911.4L313.0,913.2L315.0,915.1L317.0,917.0L319.0,919.0L321.0,920.9L323.0,922.9L325.0,924.9L327.0,927.0L329.0,929.0L331.0,931.1L333.0,933.2L335.0,935.3L337.0,937.5L339.0,939.6L341.0,941.8L343.0,944.0L345.0,946.2L347.0,948.4L349.0,950.6L351.0,952.9L353.0,955.1L355.0,957.4L357.0,959.7L359.0,962.0L361.0,964.2L363.0,966.5L365.0,968.9L367.0,971.2L369.0,973.5L371.0,975.8L373.0,978.1L374.9,980.5L376.9,982.8L378.9,985.1L380.9,987.5L382.9,989.8L384.9,992.2L386.9,994.5L388.9,996.9L390.9,999.2L392.9,1001.5L394.9,1003.9L396.9,1006.2L398.9,1008.5L400.9,1010.8L402.9,1013.2L404.9,1015.4L406.9,1017.7L408.9,1020.0L410.9,1022.2L412.9,1024.5L414.9,1026.7L416.9,1028.9L418.9,1031.1L420.9,1033.2L422.9,1035.3L424.9,1037.4L426.9,1039.4L428.9,1041.5L430.9,1043.5L432.9,1045.4L434.9,1047.3L436.9,1049.2L438.9,1051.1L440.9,1052.9L442.9,1054.6L444.9,1056.3L446.9,1058.0L448.9,1059.6L450.9,1061.2L452.9,1062.7L454.9,1064.1L456.9,1065.6L458.9,1066.9L460.9,1068.3L462.9,1069.5L464.9,1070.7L466.9,1071.9L468.9,1073.0L470.9,1074.1L472.9,1075.1L474.9,1076.0L476.9,1076.9L478.9,1077.8L480.9,1078.5L482.9,1079.3L484.9,1079.9L486.9,1080.5L488.9,1081.1L490.9,1081.6L492.9,1082.0L494.9,1082.4L496.9,1082.7L498.9,1082.9L500.9,1083.1L502.9,1083.2L504.9,1083.2L506.9,1083.2L508.9,1083.1L510.9,1083.0L512.9,1082.7L514.9,1082.5L516.9,1082.1L518.9,1081.7L520.9,1081.2L522.9,1080.6"/>
<path d="M522.9,1080.6L524.9,1078.6L526.9,1076.9L528.9,1075.4L530.9,1074.1L532.9,1073.1L534.9,1072.3L536.9,1071.8L538.9,1071.5L540.9,1071.4L542.9,1071.6L544.9,1072.0L546.9,1072.7L548.9,1073.6L550.9,1074.7L552.9,1076.0L554.9,1077.6L556.9,1079.4L558.9,1081.5L560.9,1083.7L562.9,1086.2L564.9,1088.8L566.9,1091.5L568.9,1094.4L570.9,1097.4L572.9,1100.4L574.9,1103.4L576.9,1106.5L578.9,1109.5L580.9,1112.5L582.9,1115.4L584.9,1118.3L586.9,1121.1L588.9,1123.7L590.9,1126.3L592.9,1128.8L594.9,1131.2L596.9,1133.4L598.9,1135.6L600.9,1137.6L602.9,1139.6L604.9,1141.4L606.9,1143.1L608.9,1144.8L610.9,1146.3L612.9,1147.7L614.9,1149.0L616.9,1150.1L618.9,1151.2L620.9,1152.1L622.9,1153.0L624.9,1153.7L626.9,1154.3L628.9,1154.9L630.9,1155.3L632.9,1155.7L634.9,1155.9L636.9,1156.1L638.9,1156.2L640.9,1156.3L642.9,1156.3L644.9,1156.2L646.9,1156.1L648.9,1155.9L650.9,1155.7L652.9,1155.5L654.9,1155.2L656.9,1154.9L658.9,1154.5L660.9,1154.2L662.9,1153.8L664.9,1153.4L666.9,1153.0L668.9,1152.6L670.9,1152.3L672.9,1151.9L674.9,1151.5L676.9,1151.2L678.9,1150.9L680.9,1150.6L682.9,1150.3L684.9,1150.1L686.9,1149.9L688.9,1149.8L690.9,1149.7L692.9,1149.6L694.9,1149.6"/>
<path d="M522.9,1080.6L524.9,1082.8L526.9,1085.1L528.9,1087.6L530.9,1090.1L532.9,1092.8L534.9,1095.6L536.9,1098.4L538.9,1101.4L540.9,1104.6L542.9,1107.8L544.9,1111.1L546.9,1114.6L548.9,1118.1L550.9,1121.8L552.9,1125.5L554.9,1129.3L556.9,1133.1L558.9,1137.0L560.9,1140.9L562.9,1144.8L564.9,1148.7L566.9,1152.6L568.9,1156.5L570.9,1160.3L572.9,1164.0L574.9,1167.8L576.9,1171.4L578.9,1174.9L580.9,1178.4L582.9,1181.7L584.9,1184.9L586.9,1187.9L588.9,1190.8L590.9,1193.6L592.9,1196.1L594.9,1198.5L596.9,1200.7L598.9,1202.7L600.9,1204.5L602.9,1206.1L604.9,1207.5L606.9,1208.7L608.9,1209.8L610.9,1210.6L612.9,1211.4L614.9,1211.9L616.9,1212.3L618.9,1212.5L620.9,1212.6L622.9,1212.5L624.9,1212.3L626.9,1212.0L628.9,1211.5L630.9,1210.9L632.9,1210.2L634.9,1209.5L636.9,1208.6L638.9,1207.7L640.9,1206.6L642.9,1205.6L644.9,1204.4L646.9,1203.3L648.9,1202.0L650.9,1200.8L652.9,1199.5L654.9,1198.2L656.9,1196.9L658.9,1195.6L660.9,1194.3L662.9,1193.0L664.9,1191.8L666.9,1190.6L668.9,1189.4L670.9,1188.3L672.9,1187.2L674.9,1186.2L676.9,1185.3L678.9,1184.4L680.9,1183.7L682.9,1183.0L684.9,1182.5L686.9,1182.0L688.9,1181.7L690.9,1181.4L692.9,1181.3L694.9,1181.2"/>
<path d="M694.9,1149.6L696.9,1149.6L698.8,1149.7L700.8,1149.9L702.8,1150.2L704.8,1150.7L706.7,1151.2L708.7,1151.9L710.7,1152.6L712.6,1153.5L714.6,1154.5L716.6,1155.6L718.6,1156.8L720.5,1158.1L722.5,1159.5L724.5,1161.0L726.4,1162.5L728.4,1164.2L730.4,1166.0L732.4,1167.8L734.3,1169.8L736.3,1171.8L738.3,1173.9L740.2,1176.0L742.2,1178.1L744.2,1180.3L746.2,1182.4L748.1,1184.6L750.1,1186.8L752.1,1189.0L754.0,1191.1L756.0,1193.3L758.0,1195.5L760.0,1197.7L761.9,1199.8L763.9,1202.0L765.9,1204.2L767.8,1206.4L769.8,1208.5L771.8,1210.7L773.8,1212.9L775.7,1215.0L777.7,1217.2L779.7,1219.3L781.6,1221.5L783.6,1223.6L785.6,1225.7L787.6,1227.8L789.5,1229.7L791.5,1231.6L793.5,1233.4L795.4,1235.0L797.4,1236.4L799.4,1237.7L801.4,1238.8L803.3,1239.7L805.3,1240.4L807.3,1239.9L809.3,1237.6L811.3,1234.0L813.3,1229.7L815.3,1225.2L817.3,1220.5L819.3,1215.7L821.3,1210.8L823.3,1205.7L825.3,1200.5L827.3,1195.2L829.3,1189.7L831.3,1184.0L833.3,1178.3L835.3,1172.5L837.3,1166.6L839.3,1160.6L841.3,1154.7L843.3,1148.8L845.2,1142.9L847.2,1137.1L849.2,1131.3L851.2,1125.7L853.2,1120.1L855.2,1114.6L857.2,1109.2L859.2,1103.7L861.2,1098.3L863.2,1092.9L865.2,1087.5L867.2,1082.1L869.2,1076.6L871.2,1071.1L873.2,1065.7L875.2,1060.2L877.2,1054.7L879.2,1049.2L881.2,1043.7L883.2,1038.2L885.2,1032.7L887.2,1027.2L889.2,1021.7L891.2,1016.3L893.2,1010.9L895.2,1005.5L897.2,1000.2L899.2,994.9L901.2,989.7L903.2,984.5L905.2,979.3L907.2,974.2L909.2,969.2L911.2,964.2L913.2,959.3L915.2,954.5L917.2,949.8L919.2,945.1L921.2,940.4L923.1,935.6L925.1,930.8L927.1,925.7L929.1,920.4L931.1,914.9L933.1,909.6L935.1,904.4L937.1,899.4L939.1,894.5L941.1,889.7L943.1,885.0L945.1,880.5L947.1,876.0L949.1,871.7L951.1,867.5L953.1,863.4L955.1,859.4L957.1,855.5L959.1,851.7L961.1,848.0L963.1,844.3L965.1,840.8L967.1,837.3L969.1,833.9L971.1,830.5L973.1,827.1L975.1,823.8L977.1,820.5L979.1,817.2L981.1,814.0L983.1,810.7L985.1,807.5L987.1,804.2L989.1,801.0L991.1,797.8L993.1,795.0L995.1,792.5L997.1,790.4L999.1,788.8L1001.0,787.6L1003.0,786.7L1005.0,786.1L1007.0,785.5L1009.0,785.1L1011.0,784.7L1013.0,784.4L1015.0,784.3L1017.0,784.1L1019.0,784.1L1021.0,784.2L1023.0,784.4L1025.0,784.7L1027.0,785.0L1029.0,785.3L1031.0,785.7L1033.0,786.2L1035.0,786.6L1037.0,787.0L1039.0,787.3"/>
<path d="M694.9,1181.2L696.9,1181.3L698.9,1181.5L700.9,1181.8L702.9,1182.2L704.9,1182.8L706.9,1183.4L708.9,1184.2L710.9,1185.2L712.9,1186.2L714.8,1187.3L716.8,1188.6L718.8,1189.9L720.8,1191.4L722.8,1192.9L724.8,1194.5L726.8,1196.3L728.8,1198.1L730.8,1199.9L732.8,1201.9L734.8,1203.9L736.8,1206.0L738.8,1208.2L740.8,1210.4L742.8,1212.6L744.8,1215.0L746.8,1217.3L748.8,1219.7L750.7,1222.1L752.7,1224.6L754.7,1227.0L756.7,1229.5L758.7,1231.9L760.7,1234.3L762.7,1236.6L764.7,1238.9L766.7,1241.2L768.7,1243.4L770.7,1245.5L772.7,1247.5L774.7,1249.4L776.7,1251.2L778.7,1252.9L780.7,1254.5L782.7,1255.9L784.7,1257.1L786.6,1258.2L788.6,1259.2L790.6,1259.9L792.6,1260.3L794.6,1260.3L796.6,1259.9L798.6,1259.1L800.6,1257.7L802.6,1255.8L804.6,1253.2L811.8,1248.0L813.8,1245.2L815.8,1242.0L817.8,1238.6L819.8,1234.9L821.8,1231.0L823.8,1227.0L825.8,1222.8L827.7,1218.5L829.7,1213.9L831.7,1209.2L833.7,1204.3L835.7,1199.1L837.7,1193.8L839.7,1188.3L841.7,1182.7L843.7,1177.1L845.7,1171.5L847.7,1166.0L849.7,1160.6L851.7,1155.3L853.7,1150.0L855.6,1144.8L857.6,1139.7L859.6,1134.5L861.6,1129.4L863.6,1124.3L865.6,1119.1L867.6,1114.0L869.6,1108.8L871.6,1103.6L873.6,1098.5L875.6,1093.3L877.6,1088.2L879.6,1083.0L881.6,1077.8L883.5,1072.7L885.5,1067.5L887.5,1062.3L889.5,1057.1L891.5,1051.8L893.5,1046.5L895.5,1041.2L897.5,1035.9L899.5,1030.6L901.5,1025.5L903.5,1020.4L905.5,1015.4L907.5,1010.6L909.5,1005.8L911.4,1001.1L913.4,996.5L915.4,992.0L917.4,987.6L919.4,983.2L921.4,978.9L923.4,974.6L925.4,970.3L927.4,966.1L929.4,961.8L931.4,957.6L933.4,953.4L935.4,949.3L937.4,945.3L939.4,941.5L941.3,937.9L943.3,934.5L945.3,931.3L947.3,928.3L949.3,925.3L951.3,922.5L953.3,919.7L955.3,917.0L957.3,914.2L959.3,911.5L961.3,908.8L963.3,906.1L965.3,903.5L967.3,900.8L969.2,898.1L971.2,895.4L973.2,892.5L975.2,889.6L977.2,886.6L979.2,883.4L981.2,880.0L983.2,876.4L985.2,872.7L987.2,868.8L989.2,864.6L991.2,860.3L993.2,855.9L995.2,851.2L997.1,846.5L999.1,841.7L1001.1,837.1L1003.1,832.5L1005.1,828.1L1007.1,823.9L1009.1,820.0L1011.1,816.3L1013.1,812.9L1015.1,809.7L1017.1,806.9L1019.1,804.2L1021.1,801.8L1023.1,799.6L1025.0,797.6L1027.0,795.7L1029.0,793.9L1031.0,792.2L1033.0,790.7L1035.0,789.4L1037.0,788.2L1039.0,787.3"/>
<path d="M775.0,1322.0L777.0,1317.9L779.0,1313.7L781.0,1309.4L783.0,1305.0L785.0,1300.6L787.0,1296.2L789.0,1291.8L791.0,1287.3L793.0,1282.9L795.0,1278.6L797.0,1274.3L799.0,1270.2L801.0,1266.2L803.0,1262.5L805.0,1259.2L807.0,1256.4L809.0,1254.3L811.0,1252.9L813.0,1252.3L815.0,1253.2L817.0,1254.0L819.0,1254.7L821.0,1255.3L823.0,1255.8L825.0,1256.3L827.0,1256.6L829.0,1256.9L831.0,1257.0L833.0,1257.1L835.0,1257.0L837.0,1256.9L839.0,1256.6L841.0,1256.2L843.0,1255.7L845.0,1255.1L847.0,1254.3L849.0,1253.5L851.0,1252.5L853.0,1251.3L855.0,1250.1L857.0,1248.6L859.0,1247.1L861.0,1245.4L863.0,1243.6L865.0,1241.6L867.0,1239.4L869.0,1237.2L871.0,1234.8L873.0,1232.2L875.0,1229.5L877.0,1226.7L879.0,1223.7L881.0,1220.6L883.0,1217.3L885.0,1214.0L887.0,1210.4L889.0,1206.8L891.0,1203.0L893.0,1199.1L895.0,1195.0L897.0,1190.9L899.0,1186.6L901.0,1182.1L903.0,1177.6L905.0,1172.9L907.0,1168.1L909.0,1163.3L911.0,1158.3L913.0,1153.2L915.0,1148.0L917.0,1142.8L919.0,1137.5L921.0,1132.1L923.0,1126.6L925.0,1121.1L927.0,1115.5L929.0,1109.9L931.0,1104.2L933.0,1098.5L935.0,1092.7L937.0,1086.9L939.0,1080.7L941.0,1074.0L943.0,1067.1L945.0,1060.0L947.0,1052.8L949.0,1045.7L951.0,1038.6L953.0,1031.7L955.0,1024.9L957.0,1018.2L959.0,1011.6L961.0,1005.0L963.0,998.6L965.0,992.4L967.0,986.3L969.0,980.4L971.0,974.8L973.0,969.4L975.0,964.2L977.0,959.4L979.0,955.0L981.0,950.9L983.0,947.1L985.0,943.8L987.0,940.8L989.0,938.1L991.0,935.8L993.0,933.7L995.0,931.8L997.0,930.2L999.0,928.8L1001.0,927.6L1003.0,926.6L1005.0,925.9L1007.0,925.3L1009.0,924.9L1011.0,924.6L1013.0,924.5L1015.0,924.6L1017.0,924.8L1019.0,925.1L1021.0,925.5L1023.0,926.1L1025.0,926.7L1027.0,927.4L1029.0,928.2L1031.0,929.0L1033.0,929.7L1035.0,930.4L1037.0,931.0L1039.0,931.5"/>
<path d="M838.0,1322.0L840.0,1320.8L842.0,1319.6L844.0,1318.3L846.0,1317.0L848.0,1315.6L849.9,1314.2L851.9,1312.7L853.9,1311.2L855.9,1309.6L857.9,1308.0L859.9,1306.3L861.9,1304.5L863.9,1302.6L865.9,1300.7L867.9,1298.6L869.8,1296.5L871.8,1294.3L873.8,1292.0L875.8,1289.6L877.8,1287.1L879.8,1284.5L881.8,1281.8L883.8,1278.9L885.8,1276.0L887.8,1272.8L889.7,1269.6L891.7,1266.1L893.7,1262.4L895.7,1258.6L897.7,1254.6L899.7,1250.4L901.7,1246.1L903.7,1241.6L905.7,1237.0L907.7,1232.4L909.6,1227.6L911.6,1222.7L913.6,1217.7L915.6,1212.7L917.6,1207.6L919.6,1202.4L921.6,1197.1L923.6,1191.8L925.6,1186.4L927.6,1180.9L929.5,1175.3L931.5,1169.8L933.5,1164.1L935.5,1158.4L937.5,1152.6L939.5,1146.8L941.5,1140.9L943.5,1135.0L945.5,1129.0L947.5,1123.0L949.4,1116.9L951.4,1110.8L953.4,1104.7L955.4,1098.5L957.4,1092.3L959.4,1086.1L961.4,1079.8L963.4,1073.5L965.4,1067.3L967.4,1061.0L969.3,1054.9L971.3,1048.7L973.3,1042.7L975.3,1036.8L977.3,1031.1L979.3,1025.5L981.3,1020.0L983.3,1014.8L985.3,1009.7L987.3,1004.8L989.2,1000.1L991.2,995.5L993.2,991.1L995.2,986.9L997.2,982.9L999.2,979.0L1001.2,975.2L1003.2,971.7L1005.2,968.2L1007.2,965.0L1009.1,961.9L1011.1,958.9L1013.1,956.1L1015.1,953.4L1017.1,950.9L1019.1,948.4L1021.1,946.1L1023.1,943.9L1025.1,941.8L1027.1,939.8L1029.0,937.9L1031.0,936.2L1033.0,934.6L1035.0,933.2L1037.0,932.1L1039.0,931.5"/>
<path d="M225.0,932.0L227.0,931.6L229.0,930.9L231.0,930.1L233.0,929.1L235.0,928.2L236.9,927.3L238.9,926.6L240.9,926.0L242.9,925.7L244.9,925.4L246.9,925.4L248.9,925.4L250.9,925.6L252.9,926.0L254.9,926.5L256.9,927.1L258.8,928.0L260.8,929.1L262.8,930.4L264.8,931.9L266.8,933.7L268.8,935.7L270.8,938.0L272.8,940.6L274.8,943.4L276.8,946.6L278.8,950.1L280.7,953.9L282.7,958.0L284.7,962.3L286.7,966.9L288.7,971.8L290.7,976.9L292.7,982.2L294.7,987.7L296.7,993.4L298.7,999.4L300.6,1005.5L302.6,1011.8L304.6,1018.2L306.6,1024.8L308.6,1031.5L310.6,1038.4L312.6,1045.5L314.6,1052.7L316.6,1060.0L318.6,1067.6L320.6,1075.3L322.5,1083.0L324.5,1090.5L326.5,1097.9L328.5,1105.2L330.5,1112.3L332.5,1119.3L334.5,1126.1L336.5,1132.8L338.5,1139.4L340.5,1145.9L342.5,1152.2L344.4,1158.4L346.4,1164.6L348.4,1170.6L350.4,1176.6L352.4,1182.4L354.4,1188.1L356.4,1193.8L358.4,1199.4L360.4,1204.8L362.4,1210.2L364.4,1215.5L366.3,1220.7L368.3,1225.9L370.3,1230.9L372.3,1235.8L374.3,1240.6L376.3,1245.3L378.3,1249.9L380.3,1254.3L382.3,1258.7L384.3,1262.9L386.2,1266.9L388.2,1270.9L390.2,1274.6L392.2,1278.3L394.2,1281.8L396.2,1285.1L398.2,1288.3L400.2,1291.3L402.2,1294.1L404.2,1296.8L406.2,1299.3L408.1,1301.6L410.1,1303.8L412.1,1305.7L414.1,1307.4L416.1,1309.0L418.1,1310.5L420.1,1311.8L422.1,1313.0L424.1,1314.1L426.1,1315.1L428.1,1316.1L430.0,1317.0L432.0,1318.0L434.0,1318.9L436.0,1319.9L438.0,1320.9L440.0,1322.0"/>
<path d="M225.0,932.0L227.0,932.4L229.0,933.3L231.0,934.6L233.0,936.3L234.9,938.3L236.9,940.5L238.9,942.9L240.9,945.4L242.9,948.1L244.9,950.9L246.9,953.9L248.9,957.0L250.8,960.3L252.8,963.7L254.8,967.3L256.8,970.9L258.8,974.8L260.8,978.7L262.8,982.8L264.8,986.9L266.7,991.2L268.7,995.7L270.7,1000.2L272.7,1004.8L274.7,1009.6L276.7,1014.4L278.7,1019.4L280.7,1024.4L282.7,1029.6L284.6,1034.8L286.6,1040.1L288.6,1045.5L290.6,1051.0L292.6,1056.6L294.6,1062.2L296.6,1067.9L298.6,1073.7L300.5,1079.5L302.5,1085.4L304.5,1091.3L306.5,1097.3L308.5,1103.4L310.5,1109.5L312.5,1115.6L314.5,1121.7L316.4,1127.9L318.4,1134.1L320.4,1140.3L322.4,1146.6L324.4,1152.8L326.4,1159.1L328.4,1165.3L330.4,1171.5L332.3,1177.8L334.3,1184.0L336.3,1190.1L338.3,1196.3L340.3,1202.4L342.3,1208.4L344.3,1214.4L346.3,1220.3L348.3,1226.2L350.2,1232.0L352.2,1237.7L354.2,1243.3L356.2,1248.8L358.2,1254.2L360.2,1259.5L362.2,1264.7L364.2,1269.7L366.1,1274.7L368.1,1279.5L370.1,1284.3L372.1,1288.9L374.1,1293.5L376.1,1297.9L378.1,1302.3L380.1,1306.7L382.0,1311.0L384.0,1315.2L386.0,1319.4L388.0,1323.6L390.0,1328.0"/>
<path d="M536.0,1320.0L538.0,1319.3L540.0,1318.6L542.0,1318.0L544.0,1317.3L546.0,1316.6L548.0,1316.0L550.0,1315.4L552.0,1314.8L554.0,1314.2L556.0,1313.7L558.0,1313.1L560.0,1312.7L562.0,1312.3L564.0,1311.9L566.0,1311.6L568.0,1311.3L570.0,1311.1L572.0,1311.0L574.0,1310.9L576.0,1310.9L578.0,1311.0L580.0,1311.2L582.0,1311.5L584.0,1311.9L586.0,1312.3L588.0,1312.9L590.0,1313.5L592.0,1314.3L594.0,1315.2L596.0,1316.2L598.0,1317.3L600.0,1318.6L602.0,1320.0"/>
</g>
<g stroke="#000" stroke-opacity="0.8" stroke-width="7.8">
<line x1="225.0" x2="225.0" y1="0" y2="1440"/>
<line x1="522.9" x2="522.9" y1="0" y2="1440"/>
<line x1="694.9" x2="694.9" y1="0" y2="1440"/>
<line x1="1039.0" x2="1039.0" y1="0" y2="1440"/>
</g>
</g>
<g stroke="#000" fill="none">
<line x1="208.0" x2="225.0" y1="41.0" y2="41.0" stroke-width="4"/>
<line x1="215.2" x2="225.0" y1="83.5" y2="83.5" stroke-width="2.7"/>
<line x1="215.2" x2="225.0" y1="126.5" y2="126.5" stroke-width="2.7"/>
<line x1="215.2" x2="225.0" y1="168.5" y2="168.5" stroke-width="2.7"/>
<line x1="215.2" x2="225.0" y1="211.5" y2="211.5" stroke-width="2.7"/>
<line x1="208.0" x2="225.0" y1="253.0" y2="253.0" stroke-width="4"/>
<line x1="215.2" x2="225.0" y1="296.5" y2="296.5" stroke-width="2.7"/>
<line x1="215.2" x2="225.0" y1="338.5" y2="338.5" stroke-width="2.7"/>
<line x1="215.2" x2="225.0" y1="381.5" y2="381.5" stroke-width="2.7"/>
<line x1="215.2" x2="225.0" y1="423.5" y2="423.5" stroke-width="2.7"/>
<line x1="208.0" x2="225.0" y1="466.0" y2="466.0" stroke-width="4"/>
<line x1="215.2" x2="225.0" y1="508.5" y2="508.5" stroke-width="2.7"/>
<line x1="215.2" x2="225.0" y1="551.5" y2="551.5" stroke-width="2.7"/>
<line x1="215.2" x2="225.0" y1="593.5" y2="593.5" stroke-width="2.7"/>
<line x1="215.2" x2="225.0" y1="636.5" y2="636.5" stroke-width="2.7"/>
<line x1="208.0" x2="225.0" y1="678.0" y2="678.0" stroke-width="4"/>
<line x1="215.2" x2="225.0" y1="721.5" y2="721.5" stroke-width="2.7"/>
<line x1="215.2" x2="225.0" y1="763.5" y2="763.5" stroke-width="2.7"/>
<line x1="215.2" x2="225.0" y1="806.5" y2="806.5" stroke-width="2.7"/>
<line x1="215.2" x2="225.0" y1="848.5" y2="848.5" stroke-width="2.7"/>
<line x1="208.0" x2="225.0" y1="891.0" y2="891.0" stroke-width="4"/>
<line x1="215.2" x2="225.0" y1="933.5" y2="933.5" stroke-width="2.7"/>
<line x1="215.2" x2="225.0" y1="976.5" y2="976.5" stroke-width="2.7"/>
<line x1="215.2" x2="225.0" y1="1018.5" y2="1018.5" stroke-width="2.7"/>
<line x1="215.2" x2="225.0" y1="1061.5" y2="1061.5" stroke-width="2.7"/>
<line x1="208.0" x2="225.0" y1="1103.0" y2="1103.0" stroke-width="4"/>
<line x1="215.2" x2="225.0" y1="1146.5" y2="1146.5" stroke-width="2.7"/>
<line x1="215.2" x2="225.0" y1="1188.5" y2="1188.5" stroke-width="2.7"/>
<line x1="215.2" x2="225.0" y1="1231.5" y2="1231.5" stroke-width="2.7"/>
<line x1="215.2" x2="225.0" y1="1273.5" y2="1273.5" stroke-width="2.7"/>
<line x1="208.0" x2="225.0" y1="1316.0" y2="1316.0" stroke-width="4"/>
<line x1="225" x2="225" y1="1316.0" y2="1334.0" stroke-width="4"/>
<line x1="523" x2="523" y1="1316.0" y2="1334.0" stroke-width="4"/>
<line x1="695" x2="695" y1="1316.0" y2="1334.0" stroke-width="4"/>
<line x1="1039" x2="1039" y1="1316.0" y2="1334.0" stroke-width="4"/>
<rect x="225.0" y="41.0" width="814.0" height="1275.0" stroke-width="4"/>
</g>
<g class="txt" fill="#000" stroke="none">
<text x="187.6" y="70.2" text-anchor="end">3</text>
<text x="187.6" y="282.7" text-anchor="end">2</text>
<text x="187.6" y="495.2" text-anchor="end">1</text>
<text x="187.6" y="707.7" text-anchor="end">0</text>
<text x="187.6" y="920.2" text-anchor="end">-1</text>
<text x="187.6" y="1132.7" text-anchor="end">-2</text>
<text x="187.6" y="1345.2" text-anchor="end">-3</text>
<text x="226.0" y="1410.2" text-anchor="middle">Γ</text>
<text x="523.5" y="1410.2" text-anchor="middle">M</text>
<text x="696.0" y="1410.2" text-anchor="middle">K</text>
<text x="1040.0" y="1410.2" text-anchor="middle">Γ</text>
<text transform="translate(70,912.8) rotate(-90)">Energy [eV]</text>
</g>
</svg>
</body></html>
